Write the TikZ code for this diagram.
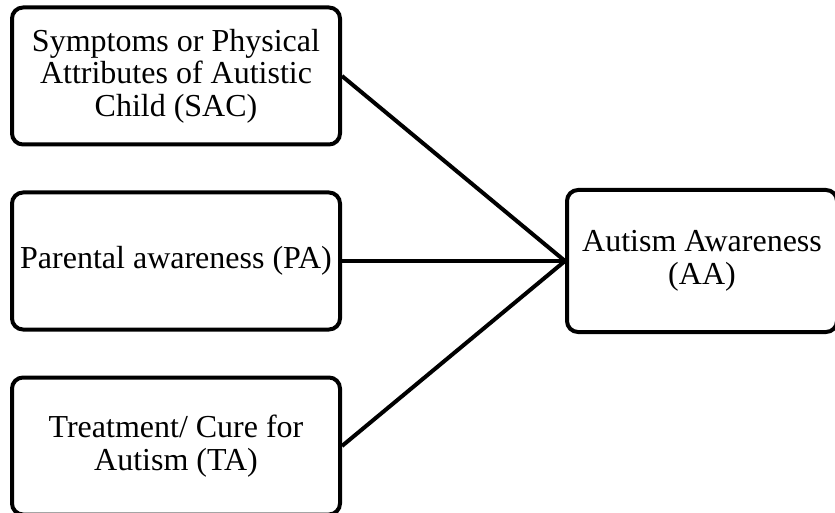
\documentclass[tikz,border=0pt]{standalone}
\usepackage{fontspec}
\setmainfont{Liberation Serif}
\usetikzlibrary{positioning}

\begin{document}
\begin{tikzpicture}[-, line width=4pt, node distance=44pt]
\tikzstyle{factor}=[draw=black,fill=white,rounded corners=11pt,align=center,inner sep=0pt,minimum width=328pt,minimum height=137pt,font=\fontsize{32}{32.5}\selectfont]
\useasboundingbox (0,0) rectangle (835pt,-513pt);
\node[factor]    (PA) at (176pt,-261pt)  {Parental awareness (PA)};
\node[factor]    (SAC)[above=of PA]      {Symptoms or Physical\\Attributes of Autistic\\Child (SAC)};
\node[factor]    (TA)[below=of PA]       {Treatment/ Cure for\\Autism (TA)};
\node[factor, minimum width=270pt, minimum height=142pt] (AA)[right=223pt of PA] {Autism Awareness\\(AA)};
\path
(SAC.east) edge (AA.west)
(PA)       edge (AA)
(TA.east)  edge (AA.west);
\end{tikzpicture}
\end{document}
